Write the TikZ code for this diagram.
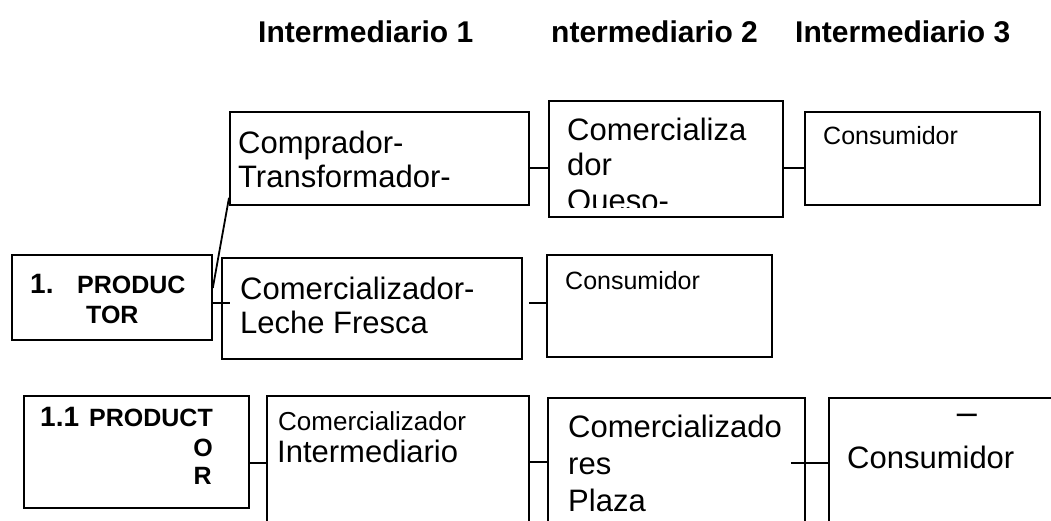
\documentclass[tikz,border=0pt]{standalone}
\usepackage{fontspec}
\setmainfont{Liberation Sans}
\usetikzlibrary{calc}
\begin{document}
\begin{tikzpicture}[x=1pt,y=-1pt,
  box/.style={draw, line width=1.8pt, inner sep=0pt, anchor=north west},
  link/.style={line width=1.8pt},
  txt/.style={inner sep=0pt, anchor=base west, font=\fontsize{#1}{36}\selectfont},
  txt/.default=31,
  btxt/.style={inner sep=0pt, anchor=base west, font=\bfseries\fontsize{#1}{36}\selectfont},
  btxt/.default=30]
\clip (0,0) rectangle (1051,520);
\useasboundingbox (0,0) rectangle (1051,520);
% headings
\node[btxt] (h1) at (258,42) {Intermediario 1};
\node[btxt] (h2) at (551,42) {ntermediario 2};
\node[btxt] (h3) at (795,42) {Intermediario 3};
% row 1
\node[box, minimum width=299pt, minimum height=93pt] (a1) at (229,111) {};
\node[box, minimum width=234pt, minimum height=116pt] (b1) at (548,100) {};
\node[box, minimum width=235pt, minimum height=93pt] (c1) at (804,111) {};
\node[txt] (a1t1) at (238,153) {Comprador-};
\node[txt] (a1t2) at (238,187) {Transformador-};
\begin{scope}
\clip (b1.north west) rectangle ($(b1.south east)+(0,-10)$);
\node[txt] (b1t1) at (567,140) {Comercializa};
\node[txt] (b1t2) at (567,175) {dor};
\node[txt] (b1t3) at (567,211) {Queso-};
\end{scope}
\node[txt=25] (c1t) at (823,144) {Consumidor};
% row 2
\node[box, minimum width=200pt, minimum height=85pt] (p1) at (11,254) {};
\node[box, minimum width=300pt, minimum height=101pt] (a2) at (221,257) {};
\node[box, minimum width=225pt, minimum height=102pt] (b2) at (546,254) {};
\node[btxt=28] (p1n) at (30,293) {1.};
\node[btxt=25] (p1t1) at (77,293) {PRODUC};
\node[btxt=25] (p1t2) at (86,323) {TOR};
\node[txt] (a2t1) at (240,299) {Comercializador-};
\node[txt] (a2t2) at (240,333) {Leche Fresca};
\node[txt=25] (b2t) at (565,289) {Consumidor};
% row 3
\node[box, minimum width=225pt, minimum height=112pt] (p3) at (23,395) {};
\node[box, minimum width=262pt, minimum height=140pt] (a3) at (266,395) {};
\node[box, minimum width=257pt, minimum height=140pt] (b3) at (547,397) {};
\node[box, minimum width=260pt, minimum height=140pt] (c3) at (828,397) {};
\node[btxt=28] (p3n) at (40,426) {1.1};
\node[btxt=25] (p3t1) at (89,426) {PRODUCT};
\node[btxt=25, anchor=base east] (p3t2) at (213,456) {O};
\node[btxt=25, anchor=base east] (p3t3) at (212,484) {R};
\node[txt=26] (a3t1) at (278,430) {Comercializador};
\node[txt=31] (a3t2) at (277,462) {Intermediario};
\node[txt] (b3t1) at (568,437) {Comercializado};
\node[txt] (b3t2) at (568,474) {res};
\node[txt] (b3t3) at (568,511) {Plaza};
\node[txt=36] (c3d) at (956.7,424) {–};
\node[txt=31] (c3t) at (847,468) {Consumidor};
% connectors
\draw[link] (a1.east |- 0,168) -- (b1.west |- 0,168);
\draw[link] (b1.east |- 0,168) -- (c1.west |- 0,168);
\draw[link] ($(p1.north east)+(0,34)$) -- ($(a1.south west)+(0,-8)$);
\draw[link] (p1.east |- 0,303) -- ($(a2.west |- 0,303)+(9,0)$);
\draw[link] ($(a2.east |- 0,303)+(6,0)$) -- (b2.west |- 0,303);
\draw[link] (p3.east |- 0,463) -- (a3.west |- 0,463);
\draw[link] (a3.east |- 0,462) -- (b3.west |- 0,462);
\draw[link] ($(b3.east |- 0,463)+(-15,0)$) -- (c3.west |- 0,463);
\end{tikzpicture}
\end{document}
